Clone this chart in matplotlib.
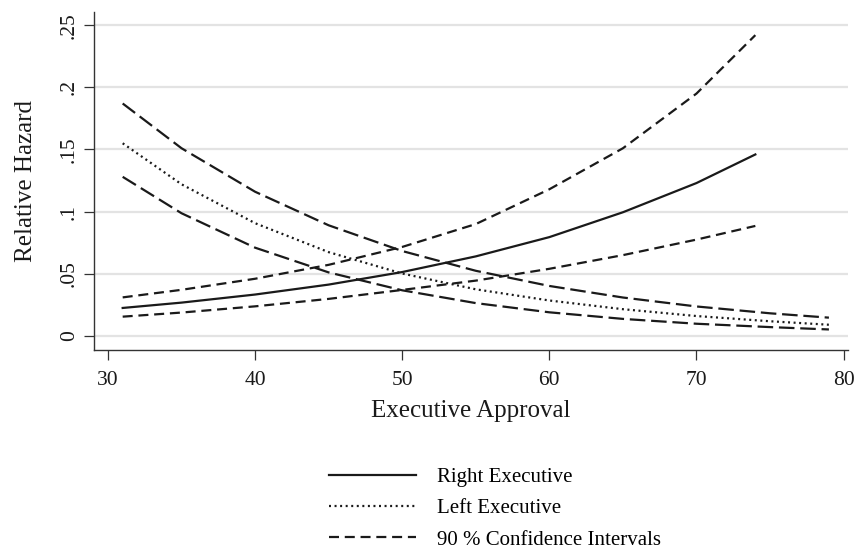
import matplotlib.pyplot as plt

plt.rcParams['font.family'] = ['Liberation Serif', 'DejaVu Serif']

# Executive approval grid (x values where curves were read)
approval_right = [31, 35, 40, 45, 50, 55, 60, 65, 70, 74]
approval_left = [31, 35, 40, 45, 50, 55, 60, 65, 70, 75, 79]

# Right executive: estimate and 90% CI
right_est = [0.0225, 0.0268, 0.0333, 0.0413, 0.0514, 0.0640, 0.0795, 0.0995, 0.1230, 0.1460]
right_hi = [0.0310, 0.0371, 0.0460, 0.0572, 0.0716, 0.0900, 0.1180, 0.1510, 0.1950, 0.2420]
right_lo = [0.0155, 0.0188, 0.0238, 0.0298, 0.0370, 0.0445, 0.0540, 0.0650, 0.0775, 0.0885]

# Left executive: estimate and 90% CI
left_est = [0.1550, 0.1220, 0.0907, 0.0674, 0.0502, 0.0375, 0.0285, 0.0215, 0.0160, 0.0118, 0.0090]
left_hi = [0.1870, 0.1510, 0.1160, 0.0890, 0.0683, 0.0524, 0.0402, 0.0309, 0.0237, 0.0182, 0.0147]
left_lo = [0.1280, 0.0987, 0.0710, 0.0511, 0.0367, 0.0264, 0.0190, 0.0137, 0.0098, 0.0071, 0.0052]

yticks = [0, 0.05, 0.1, 0.15, 0.2, 0.25]
ytick_labels = ["0", ".05", ".1", ".15", ".2", ".25"]
xticks = [30, 40, 50, 60, 70, 80]

ink = "#1a1a1a"

fig = plt.figure(figsize=(8.56, 5.52), dpi=100)
ax = fig.add_axes([0.1098, 0.366, 0.8809, 0.612])

for t in yticks:
    ax.axhline(t, color="#e3e3e3", lw=1.6, zorder=0)

ax.plot(approval_right, right_est, color=ink, lw=1.6, label="Right Executive")
ax.plot(approval_left, left_est, color=ink, lw=1.6, linestyle=(0, (0.9, 1.6)), label="Left Executive")
ax.plot(approval_right, right_hi, color=ink, lw=1.6, linestyle=(0, (4.5, 2.6)), label="90 % Confidence Intervals")
ax.plot(approval_right, right_lo, color=ink, lw=1.6, linestyle=(0, (4.5, 2.6)))
ax.plot(approval_left, left_hi, color=ink, lw=1.6, linestyle=(0, (7, 2.6)))
ax.plot(approval_left, left_lo, color=ink, lw=1.6, linestyle=(0, (7, 2.6)))

ax.set_xlim(29.05, 80.3)
ax.set_ylim(-0.0113, 0.2605)
ax.set_xticks(xticks)
ax.set_yticks(yticks)
ax.set_yticklabels(ytick_labels, rotation=90, va="center")
ax.tick_params(axis="both", direction="out", length=7, width=0.9, color="#333333",
               labelsize=15.5, labelcolor=ink)
ax.tick_params(axis="x", pad=8.5)
ax.tick_params(axis="y", pad=4)

for side in ["top", "right"]:
    ax.spines[side].set_visible(False)
for side in ["left", "bottom"]:
    ax.spines[side].set_color("#333333")
    ax.spines[side].set_linewidth(1.0)

ax.set_xlabel("Executive Approval", fontsize=18, color=ink, labelpad=7)
ax.set_ylabel("Relative Hazard", fontsize=18, color=ink, labelpad=16)

fig.legend(loc="upper left", bbox_to_anchor=(0.384, 0.1535), frameon=False,
           fontsize=15, handlelength=4.2, handletextpad=1.0, labelspacing=0.57,
           borderaxespad=0, borderpad=0)

fig.savefig("out.png", dpi=100)
